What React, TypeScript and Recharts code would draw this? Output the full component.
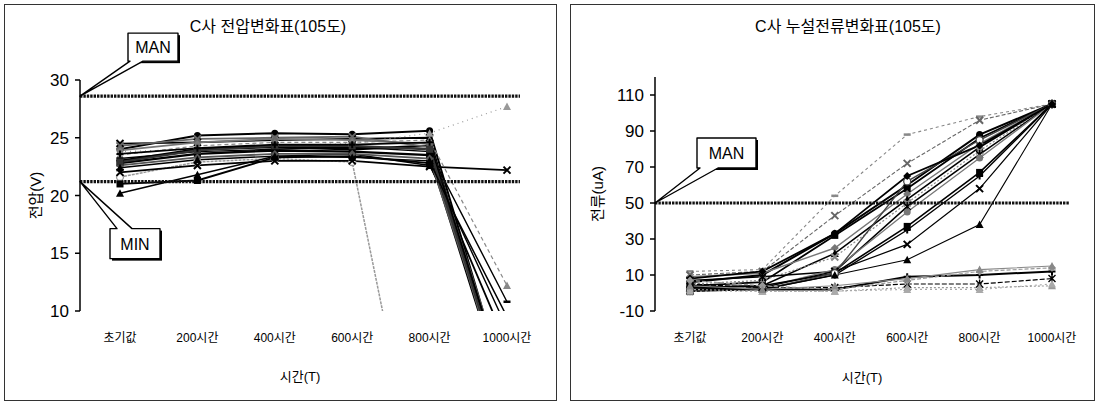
import React from "react";
import { LineChart, Line, XAxis, YAxis, ReferenceLine, Label } from "recharts";

const FONT = '"Liberation Sans", "Noto Sans CJK KR", Arial, sans-serif';

const HOURS = ["초기값", "200시간", "400시간", "600시간", "800시간", "1000시간"];
const VOLT_TICKS = [10, 15, 20, 25, 30];
const CURR_TICKS = [-10, 10, 30, 50, 70, 90, 110];
const VOLT_MAN = 28.6;
const VOLT_MIN = 21.2;
const CURR_MAN = 50;

// 전압 (V) per sample
const v01 = [24.5, 24.6, 24.8, 24.9, 25.0, 2.5];
const v02 = [24.0, 25.2, 25.4, 25.3, 25.6, 3.0];
const v03 = [23.8, 24.0, 24.3, 24.5, 25.4, 27.7];
const v04 = [21.6, 22.9, 23.2, 22.9, -10, -10];
const v05 = [22.0, 22.6, 23.0, 23.0, 22.5, 22.2];
const v06 = [20.2, 21.8, 23.4, 23.6, 22.6, 9.5];
const v07 = [21.0, 21.3, 23.3, 23.4, 22.8, 7.0];
const v08 = [23.0, 24.0, 24.2, 24.0, 24.3, 2.8];
const v09 = [22.8, 23.6, 23.9, 23.8, 23.5, 2.2];
const v10 = [23.5, 24.3, 24.6, 24.6, 24.8, 12.2];
const v11 = [23.2, 23.8, 24.0, 24.2, 23.8, 10.8];
const v12 = [23.9, 24.6, 24.9, 24.8, 24.5, 3.5];
const v13 = [22.6, 23.3, 23.6, 23.6, 23.2, 3.0];
const v14 = [24.3, 24.9, 25.0, 25.1, 24.2, 2.0];
const v15 = [22.9, 23.9, 24.3, 24.3, 24.0, 2.6];
const v16 = [23.6, 24.1, 24.4, 24.4, 24.6, 3.2];
const v17 = [22.4, 23.1, 23.4, 23.3, 23.0, 8.5];

// 누설전류 (uA) per sample
const c01 = [12, 13, 54, 88, 98, 105];
const c02 = [10, 12, 43, 72, 96, 105];
const c03 = [6, 10, 33, 60, 88, 105];
const c04 = [4, 6, 32, 58, 86, 105];
const c05 = [9, 11, 25, 55, 83, 105];
const c06 = [3, 4, 22, 52, 81, 105];
const c07 = [5, 7, 20, 50, 79, 105];
const c08 = [7, 9, 12, 48, 77, 105];
const c09 = [2, 3, 13, 45, 75, 105];
const c10 = [3, 4, 11, 37, 67, 105];
const c11 = [2, 2, 10, 35, 65, 105];
const c12 = [1, 3, 12, 27, 58, 105];
const c13 = [1, 2, 11, 62, 85, 105];
const c14 = [1, 2, 10, 18.5, 38, 105];
const c15 = [8, 12, 33, 65, 82, 105];
const c16 = [3, 2, 2, 9, 10, 12];
const c17 = [5, 3, 3, 5, 5, 8];
const c18 = [2, 1, 1, 3, 3, 4];
const c19 = [7, 4, 2, 7, 12, 14];
const c20 = [1, 1, 1, 2, 2, 5];
const c21 = [4, 2, 4, 8, 13, 15];

type Shape = "diamond" | "square" | "triangle" | "x" | "star" | "circle" | "ocircle" | "plus" | "dash";
type Look = { color: string; width: number; dash?: string; mark: Shape };

const VOLT_LINES = [v01, v02, v03, v04, v05, v06, v07, v08, v09, v10, v11, v12, v13, v14, v15, v16, v17];
const VOLT_LOOKS: Look[] = [
  { color: "#000", width: 1.8, mark: "x" },
  { color: "#000", width: 2, mark: "circle" },
  { color: "#999", width: 1.2, dash: "1 4", mark: "triangle" },
  { color: "#999", width: 1.5, dash: "3 1", mark: "ocircle" },
  { color: "#000", width: 1.8, mark: "x" },
  { color: "#000", width: 1.5, mark: "triangle" },
  { color: "#000", width: 1.8, mark: "square" },
  { color: "#000", width: 2.4, mark: "diamond" },
  { color: "#000", width: 2.4, mark: "square" },
  { color: "#888", width: 1.2, dash: "4 3", mark: "triangle" },
  { color: "#000", width: 1.4, mark: "dash" },
  { color: "#777", width: 1.8, mark: "circle" },
  { color: "#555", width: 1.8, mark: "diamond" },
  { color: "#666", width: 1.8, mark: "x" },
  { color: "#333", width: 2.2, mark: "square" },
  { color: "#000", width: 1.8, mark: "plus" },
  { color: "#000", width: 1.4, mark: "triangle" },
];

const CURR_LINES = [c01, c02, c03, c04, c05, c06, c07, c08, c09, c10, c11, c12, c13, c14, c15, c16, c17, c18, c19, c20, c21];
const CURR_LOOKS: Look[] = [
  { color: "#888", width: 1.1, dash: "3 3", mark: "dash" },
  { color: "#666", width: 1.1, dash: "4 2", mark: "x" },
  { color: "#000", width: 2, mark: "circle" },
  { color: "#000", width: 1.8, mark: "square" },
  { color: "#777", width: 1.4, mark: "diamond" },
  { color: "#000", width: 1.6, mark: "triangle" },
  { color: "#888", width: 1.2, dash: "2 2", mark: "x" },
  { color: "#000", width: 1.5, mark: "star" },
  { color: "#777", width: 1.3, mark: "circle" },
  { color: "#000", width: 1.6, mark: "square" },
  { color: "#000", width: 1.4, mark: "plus" },
  { color: "#000", width: 1.2, mark: "x" },
  { color: "#444", width: 1.4, mark: "ocircle" },
  { color: "#000", width: 1.1, mark: "triangle" },
  { color: "#000", width: 1.8, mark: "diamond" },
  { color: "#000", width: 2, mark: "plus" },
  { color: "#000", width: 1.2, dash: "5 2", mark: "star" },
  { color: "#999", width: 1.1, dash: "2 2", mark: "triangle" },
  { color: "#999", width: 1.2, dash: "4 2", mark: "diamond" },
  { color: "#aaa", width: 1.1, dash: "2 3", mark: "triangle" },
  { color: "#888", width: 1.1, mark: "triangle" },
];

const toRows = (lines: number[][]) =>
  HOURS.map((t, i) => {
    const row: Record<string, string | number> = { t };
    lines.forEach((s, k) => (row[`s${k}`] = s[i]));
    return row;
  });

const voltData = toRows(VOLT_LINES);
const currData = toRows(CURR_LINES);

function Mark({ cx, cy, shape, color }: { cx?: number; cy?: number; shape: Shape; color: string }) {
  if (cx == null || cy == null || isNaN(cx) || isNaN(cy)) return null;
  const s = 3.5;
  switch (shape) {
    case "diamond":
      return <path d={`M${cx},${cy - s - 0.5}L${cx + s + 0.5},${cy}L${cx},${cy + s + 0.5}L${cx - s - 0.5},${cy}Z`} fill={color} />;
    case "square":
      return <rect x={cx - s} y={cy - s} width={2 * s} height={2 * s} fill={color} />;
    case "triangle":
      return <path d={`M${cx},${cy - s - 0.5}L${cx + s + 0.5},${cy + s}L${cx - s - 0.5},${cy + s}Z`} fill={color} />;
    case "x":
      return (
        <path d={`M${cx - s},${cy - s}L${cx + s},${cy + s}M${cx + s},${cy - s}L${cx - s},${cy + s}`} stroke={color} strokeWidth={2} />
      );
    case "star":
      return (
        <path
          d={`M${cx - s},${cy - s}L${cx + s},${cy + s}M${cx + s},${cy - s}L${cx - s},${cy + s}M${cx},${cy - s - 1}L${cx},${cy + s + 1}`}
          stroke={color}
          strokeWidth={1.4}
        />
      );
    case "circle":
      return <circle cx={cx} cy={cy} r={s} fill={color} />;
    case "ocircle":
      return <circle cx={cx} cy={cy} r={s} fill="#fff" stroke={color} strokeWidth={1.3} />;
    case "plus":
      return <path d={`M${cx - s},${cy}H${cx + s}M${cx},${cy - s}V${cy + s}`} stroke={color} strokeWidth={2} />;
    case "dash":
      return <path d={`M${cx - s},${cy}H${cx + s}`} stroke={color} strokeWidth={2.5} />;
  }
  return null;
}

type CalloutProps = {
  text: string;
  dx: number;
  dy: number;
  w: number;
  h: number;
  a: number;
  b: number;
  side: "top" | "bottom";
};

function Callout({ vb, text, dx, dy, w, h, a, b, side }: CalloutProps & { vb: any }) {
  if (!vb) return null;
  const tx = vb.x;
  const ty = vb.y;
  const x0 = tx + dx;
  const y0 = ty + dy;
  const x1 = x0 + w;
  const y1 = y0 + h;
  const pa = tx + a;
  const pb = tx + b;
  const d =
    side === "bottom"
      ? `M${x0},${y0}H${x1}V${y1}H${pb}L${tx},${ty}L${pa},${y1}H${x0}Z`
      : `M${x0},${y0}H${pa}L${tx},${ty}L${pb},${y0}H${x1}V${y1}H${x0}Z`;
  return (
    <g>
      <rect x={x0 + 2} y={y0 + 2} width={w} height={h} fill="#000" />
      <path d={d} fill="#fff" stroke="#000" strokeWidth={1.4} strokeLinejoin="round" />
      <text x={x0 + w / 2} y={y0 + h / 2 + 6} textAnchor="middle" fontSize={16} fontFamily={FONT} fill="#000">
        {text}
      </text>
    </g>
  );
}

function calloutLabel(c: CalloutProps) {
  return <Label content={(p: any) => <Callout vb={p.viewBox ?? p} {...c} />} />;
}

const dotFor = (look: Look, name: string) => (p: any) =>
  <Mark key={`${name}-${p.index}`} cx={p.cx} cy={p.cy} shape={look.mark} color={look.color} />;

function seriesLines(looks: Look[], prefix: string) {
  return looks.map((look, k) => (
    <Line
      key={`${prefix}${k}`}
      dataKey={`s${k}`}
      type="linear"
      stroke={look.color}
      strokeWidth={look.width}
      strokeDasharray={look.dash}
      dot={dotFor(look, `${prefix}${k}`)}
      activeDot={false}
      isAnimationActive={false}
    />
  ));
}

const refStyle = { stroke: "#111", strokeWidth: 3.2, strokeDasharray: "2.4 1" };

function VoltChart() {
  return (
    <LineChart width={557} height={402} data={voltData} margin={{ top: 80, left: 20, right: 37, bottom: 11 }}>
      <XAxis
        dataKey="t"
        padding={{ left: 40, right: 13 }}
        axisLine={false}
        tickLine={false}
        tickSize={0}
        tickMargin={22}
        height={80}
        interval={0}
        tick={{ fontSize: 12, fill: "#000", fontFamily: FONT }}
      >
        <Label value="시간(T)" position="insideBottom" offset={10} fontSize={13} fill="#000" fontFamily={FONT} />
      </XAxis>
      <YAxis
        domain={[10, 30]}
        ticks={VOLT_TICKS}
        allowDataOverflow
        width={60}
        tickSize={5}
        tickMargin={6}
        axisLine={{ stroke: "#000", strokeWidth: 1.5 }}
        tickLine={{ stroke: "#000", strokeWidth: 1.5 }}
        tick={{ fontSize: 17, fill: "#000", fontFamily: FONT }}
      >
        <Label value="전압(V)" angle={-90} position="insideLeft" offset={16} fontSize={15} fill="#000" fontFamily={FONT} style={{ textAnchor: "middle" }} />
      </YAxis>
      {seriesLines(VOLT_LOOKS, "v")}
      <ReferenceLine y={VOLT_MAN} {...refStyle}>
        {calloutLabel({ text: "MAN", dx: 48, dy: -63, w: 50, h: 28, a: 50, b: 63, side: "bottom" })}
      </ReferenceLine>
      <ReferenceLine y={VOLT_MIN} {...refStyle}>
        {calloutLabel({ text: "MIN", dx: 30, dy: 47, w: 50, h: 30, a: 37, b: 52, side: "top" })}
      </ReferenceLine>
    </LineChart>
  );
}

function CurrChart() {
  return (
    <LineChart width={525} height={402} data={currData} margin={{ top: 77, left: 25, right: 26, bottom: 11 }}>
      <XAxis
        dataKey="t"
        padding={{ left: 35, right: 17 }}
        axisLine={false}
        tickLine={false}
        tickSize={0}
        tickMargin={22}
        height={80}
        interval={0}
        tick={{ fontSize: 12, fill: "#000", fontFamily: FONT }}
      >
        <Label value="시간(T)" position="insideBottom" offset={9} fontSize={13} fill="#000" fontFamily={FONT} />
      </XAxis>
      <YAxis
        domain={[-10, 120]}
        ticks={CURR_TICKS}
        allowDataOverflow
        width={60}
        tickSize={5}
        tickMargin={6}
        axisLine={{ stroke: "#000", strokeWidth: 1.5 }}
        tickLine={{ stroke: "#000", strokeWidth: 1.5 }}
        tick={{ fontSize: 17, fill: "#000", fontFamily: FONT }}
      >
        <Label value="전류(uA)" angle={-90} position="insideLeft" offset={3} fontSize={15} fill="#000" fontFamily={FONT} style={{ textAnchor: "middle" }} />
      </YAxis>
      {seriesLines(CURR_LOOKS, "c")}
      <ReferenceLine y={CURR_MAN} {...refStyle}>
        {calloutLabel({ text: "MAN", dx: 42, dy: -65, w: 59, h: 30, a: 45, b: 63, side: "bottom" })}
      </ReferenceLine>
    </LineChart>
  );
}

const panel: React.CSSProperties = {
  position: "absolute",
  top: 4,
  height: 397,
  border: "1.5px solid #333",
  boxSizing: "border-box",
};

const title: React.CSSProperties = {
  position: "absolute",
  top: 13,
  fontSize: 16,
  color: "#000",
  whiteSpace: "nowrap",
  transform: "translateX(-50%)",
  fontFamily: FONT,
};

export default function App() {
  return (
    <div style={{ position: "absolute", left: 0, top: 0, width: 1099, height: 402, background: "#fff", overflow: "hidden", fontFamily: FONT }}>
      <div style={{ ...panel, left: 4, width: 553 }} />
      <div style={{ ...panel, left: 570, width: 525 }} />
      <div style={{ position: "absolute", left: 0, top: 0 }}>
        <VoltChart />
      </div>
      <div style={{ position: "absolute", left: 570, top: 0 }}>
        <CurrChart />
      </div>
      <div style={{ ...title, left: 268 }}>C사 전압변화표(105도)</div>
      <div style={{ ...title, left: 848 }}>C사 누설전류변화표(105도)</div>
    </div>
  );
}
